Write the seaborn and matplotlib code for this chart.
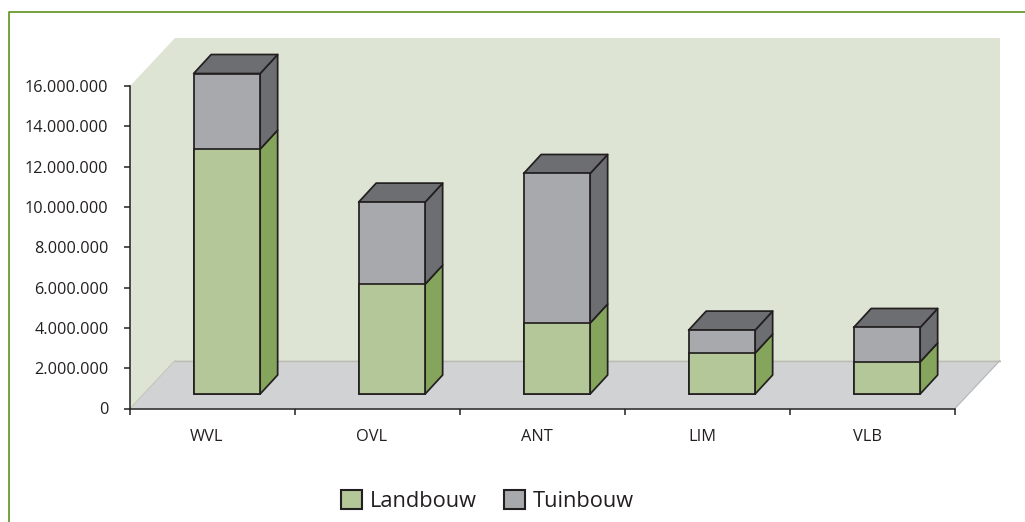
import numpy as np
import pandas as pd
import matplotlib.pyplot as plt
import seaborn as sns
from matplotlib.lines import Line2D
from matplotlib.patches import Patch, Polygon
from matplotlib.ticker import FuncFormatter
from matplotlib.transforms import ScaledTranslation

# Values
regions = ["WVL", "OVL", "ANT", "LIM", "VLB"]
landbouw = [12150000, 5450000, 3520000, 2030000, 1590000]
tuinbouw = [3750000, 4070000, 7420000, 1140000, 1710000]
y_ticks = [0, 2000000, 4000000, 6000000, 8000000, 10000000, 12000000, 14000000, 16000000]

INK = "#231f20"
GREEN = "#b3c799"
GREEN_DARK = "#84a55b"
GREY = "#a7a9ac"
GREY_DARK = "#6d6e71"
EDGE = 1.25

W, H = 1025, 522
sns.set_theme(style="white")
plt.rcParams["font.family"] = ["Open Sans", "DejaVu Sans"]

df = pd.DataFrame({"region": regions, "land": landbouw, "tuin": tuinbouw})
df["total"] = df["land"] + df["tuin"]

fig = plt.figure(figsize=(W / 100, H / 100), dpi=100)
ax = fig.add_axes([130 / W, 1 - 408.5 / H, 825 / W, 322.5 / H])
ax.set_xlim(-0.5, 4.5)
ax.set_ylim(0, 16000000)

# pixel sizes of the fake 3d, turned into data units
cat_px = 825 / 5
val_px = 322.5 / 16000000
wall_dx, wall_dy = 45 / cat_px, 48 / val_px
bar_dx, bar_dy = 17.5 / cat_px, 19 / val_px
shift_x, shift_y = 14.4 / cat_px, 14.5 / val_px
bar_w = 66.5 / cat_px

# walls and floor
x0, x1 = -0.5, 4.5
top = 16000000
ax.add_patch(Polygon([(x0, 0), (x0, top), (x0 + wall_dx, top + wall_dy), (x0 + wall_dx, wall_dy)],
                     fc="#dee4d3", ec="none", clip_on=False, zorder=0))
ax.add_patch(Polygon([(x0 + wall_dx, wall_dy), (x0 + wall_dx, top + wall_dy),
                      (x1 + wall_dx, top + wall_dy), (x1 + wall_dx, wall_dy)],
                     fc="#dee4d3", ec="none", clip_on=False, zorder=0))
ax.add_patch(Polygon([(x0, 0), (x0 + wall_dx, wall_dy), (x1 + wall_dx, wall_dy), (x1, 0)],
                     fc="#d1d2d4", ec="none", clip_on=False, zorder=0.5))
ax.plot([x0 + wall_dx, x1 + wall_dx], [wall_dy, wall_dy], color="#b9bcaf", lw=1, clip_on=False, zorder=0.6)
ax.plot([x0, x0 + wall_dx], [0, wall_dy], color="#c3c6b9", lw=0.8, clip_on=False, zorder=0.6)
ax.plot([x1, x1 + wall_dx], [0, wall_dy], color="#b4b5b7", lw=0.8, clip_on=False, zorder=0.6)

# front faces: total behind, landbouw on top of it
sns.barplot(data=df, x="region", y="total", color=GREY, saturation=1, width=bar_w,
            edgecolor=INK, linewidth=EDGE, ax=ax, zorder=3)
sns.barplot(data=df, x="region", y="land", color=GREEN, saturation=1, width=bar_w,
            edgecolor=INK, linewidth=EDGE, ax=ax, zorder=3.2)
for p in ax.patches:
    if p.get_zorder() >= 3:
        p.set_x(p.get_x() + shift_x)
        p.set_y(shift_y)
        p.set_clip_on(False)

# side and top faces
for i, row in df.iterrows():
    left = i - bar_w / 2 + shift_x
    right = left + bar_w
    base = shift_y
    land_top = base + row["land"]
    total_top = base + row["total"]
    ax.add_patch(Polygon([(right, base), (right + bar_dx, base + bar_dy),
                          (right + bar_dx, land_top + bar_dy), (right, land_top)],
                         fc=GREEN_DARK, ec=INK, lw=EDGE, clip_on=False, zorder=2.8, joinstyle="round"))
    ax.add_patch(Polygon([(right, land_top), (right + bar_dx, land_top + bar_dy),
                          (right + bar_dx, total_top + bar_dy), (right, total_top)],
                         fc=GREY_DARK, ec=INK, lw=EDGE, clip_on=False, zorder=2.8, joinstyle="round"))
    ax.add_patch(Polygon([(left, total_top), (left + bar_dx, total_top + bar_dy),
                          (right + bar_dx, total_top + bar_dy), (right, total_top)],
                         fc=GREY_DARK, ec=INK, lw=EDGE, clip_on=False, zorder=2.8, joinstyle="round"))

# axes
sns.despine(ax=ax)
for side in ["left", "bottom"]:
    ax.spines[side].set_color(INK)
    ax.spines[side].set_linewidth(1.1)
    ax.spines[side].set_zorder(2)
ax.set_xlabel("")
ax.set_ylabel("")
ax.set_yticks(y_ticks)
ax.yaxis.set_major_formatter(FuncFormatter(lambda v, _: f"{v:,.0f}".replace(",", ".")))
ax.tick_params(axis="y", left=True, length=4.5, width=1.1, color=INK, labelsize=11.7, labelcolor=INK, pad=11)
ax.set_xticks(np.arange(-0.5, 5, 1))
ax.set_xticklabels([])
ax.tick_params(axis="x", which="major", bottom=True, length=4.5, width=1.1, color=INK)
ax.set_xticks(np.arange(5), labels=regions, minor=True)
ax.tick_params(axis="x", which="minor", bottom=False, length=0, labelsize=11.8, labelcolor=INK, pad=15)
nudge = ScaledTranslation(-5.5 / 100, 0, fig.dpi_scale_trans)
for lab in ax.get_xticklabels(minor=True):
    lab.set_transform(lab.get_transform() + nudge)

# legend
handles = [Patch(fc=GREEN, ec=INK, lw=1.5), Patch(fc=GREY, ec=INK, lw=1.5)]
fig.legend(handles, ["Landbouw", "Tuinbouw"], loc="center", bbox_to_anchor=(487.5 / W, 1 - 501 / H),
           ncol=2, frameon=False, fontsize=15.7, labelcolor=INK, handlelength=0.95, handleheight=0.95,
           handletextpad=0.36, columnspacing=1.25, borderpad=0)

# green frame, open at right and bottom
frame = "#6a9a2e"
fig.add_artist(Line2D([9 / W, 9 / W, 1], [0, 1 - 12 / H, 1 - 12 / H], color=frame, lw=1.3))

fig.savefig("out.png", dpi=100)
